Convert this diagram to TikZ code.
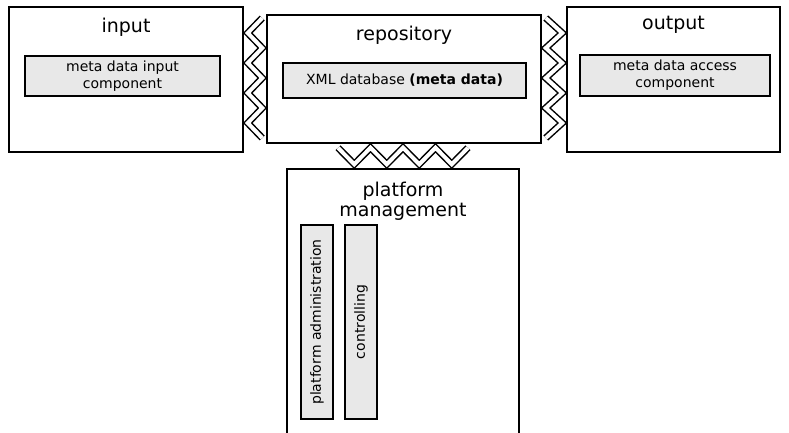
\documentclass[tikz,border=0pt]{standalone}
\usepackage{fontspec}
\setmainfont{DejaVu Sans}
\usetikzlibrary{calc}
\tikzset{
  block/.style={draw, line width=1.5pt, inner sep=0pt},
  part/.style={draw, line width=1.3pt, fill=black!9, inner sep=0pt, align=center, font=\fontsize{14}{17}\selectfont},
  caption/.style={inner sep=0pt, align=center, font=\fontsize{19}{20}\selectfont},
  plug/.style={draw, line width=1.5pt, double=white, double distance=4pt, line join=miter},
}

\begin{document}
\begin{tikzpicture}[x=1pt, y=-1pt]
		\useasboundingbox (0,0) rectangle (789,432);
		
		%%%%% BLOCKS %%%%%
		\node[block, minimum width=234pt, minimum height=145pt] (input) at (126,79.5) {};
		\node[block, minimum width=274pt, minimum height=128pt] (repo) at (404,79) {};
		\node[block, minimum width=213pt, minimum height=145pt] (output) at (673.5,79.5) {};
		\node[block, minimum width=232pt, minimum height=265pt] (platform) at (403,301.5) {};
		
		\node[caption, anchor=base] (inputcap) at ([yshift=-26pt]input.north) {input};
		\node[caption, anchor=base] (repocap) at ([yshift=-26pt]repo.north) {repository};
		\node[caption, anchor=base] (outputcap) at ([yshift=-23pt]output.north) {output};
		\node[caption, anchor=north] (platformcap) at ([yshift=-13.5pt]platform.north) {platform\\management};
		
		%%%%% PARTS %%%%%
		\node[part, minimum width=195pt, minimum height=40pt] (inputpart) at (122.5,76) {meta data input\\component};
		\node[part, minimum width=243pt, minimum height=35pt] (xmldb) at (404.5,80.5) {XML database \textbf{(meta data)}};
		\node[part, minimum width=190pt, minimum height=41pt] (accesspart) at (675,75.5) {meta data access\\component};
		\node[part, rotate=90, minimum width=194pt, minimum height=32pt] (admin) at (317,322) {platform administration};
		\node[part, rotate=90, minimum width=194pt, minimum height=32pt] (ctrl) at (361,322) {controlling};
		
		%%%%% PLUGS %%%%%
		\coordinate (lL) at ([xshift=4pt]input.east);
		\coordinate (lR) at ([xshift=-4pt]repo.west);
		\coordinate (rL) at ([xshift=4pt]repo.east);
		\coordinate (rR) at ([xshift=-4pt]output.west);
		\coordinate (bT) at ([yshift=-4pt]repo.south);
		\coordinate (bB) at ([yshift=4pt]platform.north);
		
		% input -- repository
		\draw[plug] (lR |- 0,18) foreach \k in {0,...,3} { -- (lL |- 0,{33+30*\k}) -- (lR |- 0,{48+30*\k}) };
		% repository -- output
		\draw[plug] (rL |- 0,18) foreach \k in {0,...,3} { -- (rR |- 0,{33+30*\k}) -- (rL |- 0,{48+30*\k}) };
		% repository -- platform management
		\draw[plug] (338,0 |- bT) foreach \k in {0,...,3} { -- ({354.25+32.5*\k},0 |- bB) -- ({370.5+32.5*\k},0 |- bT) };
		
	\end{tikzpicture}
\end{document}
